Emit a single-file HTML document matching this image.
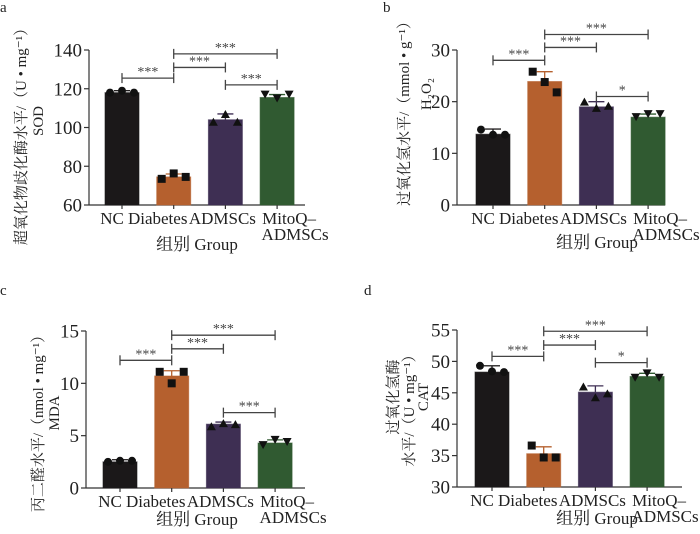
<!DOCTYPE html>
<html><head><meta charset="utf-8"><style>
body{margin:0;background:#fff;}
svg{display:block;font-family:"Liberation Serif","Noto Serif CJK SC",serif;}
</style></head><body>
<svg id="fig" width="700" height="534" viewBox="0 0 700 534"></svg>
<script>
const categories=["NC","Diabetes","ADMSCs","MitoQ–"];
const colors=["#1b1819","#b5602e","#3e2f53","#305a31"];
const markers=["circle","square","triUp","triDown"];
const meansA=[118,74.5,104,115.5], errA=[119,76,107,117];
const ptsA=[[118,119,118],[73.5,76.3,74.5],[103,107,103],[117,115,117]];
const meansB=[13.7,23.9,19,17], errB=[14.7,25.8,20,17.6];
const ptsB=[[14.6,13.6,13.6],[25.8,23.8,21.8],[20,18.8,19.2],[17,17.6,17.6]];
const meansC=[2.5,10.7,6.1,4.3], errC=[2.7,11.2,6.3,4.6];
const ptsC=[[2.5,2.6,2.6],[11.1,10,11.1],[5.9,6.2,6.1],[4.1,4.6,4.4]];
const meansD=[48.3,35.3,45.1,47.6], errD=[49.3,36.4,46.1,48.1];
const ptsD=[[49.3,48.4,48.3],[36.6,34.7,34.7],[46,44.3,44.9],[47.4,48.1,47.4]];
const ticksA=[60,80,100,120,140], ticksB=[0,10,20,30], ticksC=[0,5,10,15], ticksD=[30,35,40,45,50,55];
const sigA=[[0,1,125.5,"***"],[1,2,131,"***"],[1,3,138,"***"],[2,3,122,"***"]];
const sigB=[[0,1,28,"***"],[1,2,30.5,"***"],[1,3,33,"***"],[2,3,21,"*"]];
const sigC=[[0,1,12.2,"***"],[1,2,13.3,"***"],[1,3,14.6,"***"],[2,3,7.2,"***"]];
const sigD=[[0,1,50.8,"***"],[1,2,52.6,"***"],[1,3,54.8,"***"],[2,3,49.8,"*"]];
const labelDx=[-10,-16,-3,12];

const NS="http://www.w3.org/2000/svg";
const fig=document.getElementById('fig');
function mk(tag,attrs,parent,text){const e=document.createElementNS(NS,tag);for(const k in attrs)e.setAttribute(k,attrs[k]);if(text!==undefined)e.textContent=text;parent.appendChild(e);return e;}

function panel(p){
  const g=mk('g',{},fig);
  
  
  const y=v=>p.bottom-(v-p.ticks[0])/(p.ticks[p.ticks.length-1]-p.ticks[0])*(p.bottom-p.top);
  const x=i=>p.x0+i*p.dx;
  const lt=mk('text',{x:p.lx,y:p.ly,'font-size':15,fill:'#222'},g,p.letter);
  
  const ax=mk('line',{x1:p.ax,y1:p.top,x2:p.ax,y2:p.bottom,stroke:'#333','stroke-width':1.2},g);
  
  const xa=mk('line',{x1:p.ax,y1:p.bottom,x2:p.xend,y2:p.bottom,stroke:'#333','stroke-width':1.2},g);
  
  p.ticks.forEach(t=>{
    mk('line',{x1:p.ax-5,y1:y(t),x2:p.ax,y2:y(t),stroke:'#333','stroke-width':1.2},g);
    const tl=mk('text',{x:p.ax-7,y:y(t)+6.5,'font-size':19,'text-anchor':'end',fill:'#222'},g,t);
    
  });
  p.means.forEach((m,i)=>{
    const b=mk('rect',{x:x(i)-17,y:y(m),width:34,height:p.bottom-y(m),fill:colors[i],stroke:colors[i],'stroke-opacity':0.6},g);
    
    
    mk('line',{x1:x(i),y1:y(m),x2:x(i),y2:y(p.err[i]),stroke:colors[i],'stroke-width':1.3},g);
    mk('line',{x1:x(i)-8,y1:y(p.err[i]),x2:x(i)+8,y2:y(p.err[i]),stroke:colors[i],'stroke-width':1.3},g);
    mk('line',{x1:x(i),y1:p.bottom,x2:x(i),y2:p.bottom+4,stroke:'#333','stroke-width':1.2},g);
    p.pts[i].forEach((v,k)=>{
      const px=x(i)+(k-1)*12, py=y(v);let e;
      if(markers[i]=='circle')e=mk('circle',{cx:px,cy:py,r:4,fill:'#111'},g);
      else if(markers[i]=='square')e=mk('rect',{x:px-4,y:py-4,width:8,height:8,fill:'#111'},g);
      else if(markers[i]=='triUp')e=mk('polygon',{points:`${px-4.5},${py+4} ${px+4.5},${py+4} ${px},${py-4}`,fill:'#111'},g);
      else e=mk('polygon',{points:`${px-4.5},${py-4} ${px+4.5},${py-4} ${px},${py+4}`,fill:'#111'},g);
      
    });
    const cl=mk('text',{x:x(i)+labelDx[i],y:p.bottom+19,'font-size':17,'text-anchor':'middle',fill:'#222'},g,categories[i]);
    
    if(i==3){const c2=mk('text',{x:x(i)+labelDx[i]+6,y:p.bottom+35,'font-size':17,'text-anchor':'middle',fill:'#222'},g,'ADMSCs');
      }
  });
  p.sig.forEach(s=>{
    const yy=y(s[2]);
    const bg=mk('g',{stroke:'#444','stroke-width':1.3},g);
    
    mk('line',{x1:x(s[0]),y1:yy,x2:x(s[1]),y2:yy},bg);
    mk('line',{x1:x(s[0]),y1:yy-5,x2:x(s[0]),y2:yy+5},bg);
    mk('line',{x1:x(s[1]),y1:yy-5,x2:x(s[1]),y2:yy+5},bg);
    const st=mk('text',{x:(x(s[0])+x(s[1]))/2,y:yy-2,'font-size':14,'text-anchor':'middle',fill:'#444'},g,s[3]);
    
  });
  const gt=mk('text',{x:p.gx,y:p.bottom+p.gdy,'font-size':17,'text-anchor':'middle',fill:'#222'},g,'组别  Group');
  
  p.titles.forEach((t,k)=>{
    const tt=mk('text',{x:0,y:0,'font-size':15,'text-anchor':'middle',fill:'#222',transform:`translate(${p.tx[k]},${p.ty[k]}) rotate(-90)`},g,t);
    
  });
}
panel({letter:'a',lx:0,ly:12,ax:89,xend:305,top:50,bottom:205,x0:122,dx:51.7,ticks:ticksA,means:meansA,err:errA,pts:ptsA,sig:sigA,gx:197,gdy:45,
  titles:['超氧化物歧化酶水平/（U • mg⁻¹）','SOD'],tx:[26,43],ty:[133,121]});
panel({letter:'b',lx:383,ly:12,ax:457,xend:665,top:50,bottom:205,x0:493,dx:51.7,ticks:ticksB,means:meansB,err:errB,pts:ptsB,sig:sigB,gx:597,gdy:43,
  titles:['过氧化氢水平/（mmol • g⁻¹）','H₂O₂'],tx:[409,431],ty:[110,94]});
panel({letter:'c',lx:0,ly:295,ax:86,xend:305,top:331,bottom:488,x0:120,dx:51.7,ticks:ticksC,means:meansC,err:errC,pts:ptsC,sig:sigC,gx:197,gdy:37,
  titles:['丙二醛水平/（nmol • mg⁻¹）','MDA'],tx:[43,59],ty:[420,413]});
panel({letter:'d',lx:364,ly:295,ax:457,xend:682,top:330,bottom:487,x0:492,dx:51.7,ticks:ticksD,means:meansD,err:errD,pts:ptsD,sig:sigD,gx:597,gdy:37,
  titles:['过氧化氢酶','水平/（U • mg⁻¹）','CAT'],tx:[398,414,428],ty:[397,407,397]});
</script>
</body></html>
